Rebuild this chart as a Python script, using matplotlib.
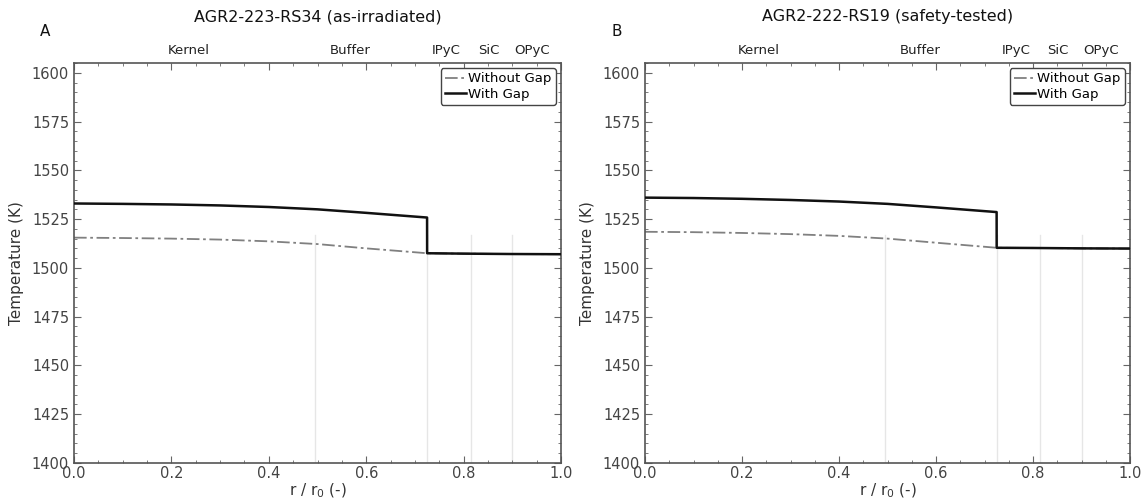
import numpy as np
import matplotlib.pyplot as plt
from matplotlib.ticker import MultipleLocator

titles = ["AGR2-223-RS34 (as-irradiated)", "AGR2-222-RS19 (safety-tested)"]
panel_labels = ["A", "B"]
layer_names = ["Kernel", "Buffer", "IPyC", "SiC", "OPyC"]
layer_label_pos = [0.235, 0.568, 0.765, 0.852, 0.94]
boundaries = [0.495, 0.725, 0.815, 0.9]

# Without gap (dash-dot)
r_nogap = [0.0, 0.1, 0.2, 0.3, 0.4, 0.5, 0.6, 0.725, 0.8, 0.9, 1.0]
T_nogap_A = [1515.5, 1515.3, 1515.0, 1514.5, 1513.6, 1512.2, 1510.0, 1507.5, 1507.3, 1507.1, 1507.0]
T_nogap_B = [1518.5, 1518.3, 1517.9, 1517.3, 1516.4, 1515.0, 1512.9, 1510.3, 1510.2, 1510.0, 1509.9]
# With gap (solid)
r_gap = [0.0, 0.1, 0.2, 0.3, 0.4, 0.5, 0.6, 0.725, 0.7251, 0.8, 0.9, 1.0]
T_gap_A = [1533.0, 1532.8, 1532.5, 1532.0, 1531.2, 1530.0, 1528.2, 1525.8, 1507.5, 1507.3, 1507.1, 1507.0]
T_gap_B = [1536.0, 1535.8, 1535.4, 1534.8, 1534.0, 1532.8, 1531.0, 1528.6, 1510.3, 1510.2, 1510.0, 1509.9]

nogap = [T_nogap_A, T_nogap_B]
gap = [T_gap_A, T_gap_B]

fig = plt.figure(figsize=(11.42, 5.0), dpi=100)
axes_pos = [[74/1142, 37/500, 487/1142, 400/500],
            [645/1142, 37/500, 485/1142, 400/500]]
tick_color = "#444444"
for i in range(2):
    ax = fig.add_axes(axes_pos[i])
    for b in boundaries:
        ax.plot([b, b], [1400, 1517], color="#e6e6e6", lw=1.0, zorder=1)
    ax.plot(r_nogap, nogap[i], color="#808080", lw=1.3, linestyle=(0, (7, 2, 1.5, 2)), label="Without Gap", zorder=2)
    ax.plot(r_gap, gap[i], color="#111111", lw=1.8, label="With Gap", zorder=3)
    ax.set_xlim(0, 1.0)
    ax.set_ylim(1400, 1605)
    ax.xaxis.set_major_locator(MultipleLocator(0.2))
    ax.xaxis.set_minor_locator(MultipleLocator(0.05))
    ax.yaxis.set_major_locator(MultipleLocator(25))
    ax.yaxis.set_minor_locator(MultipleLocator(5))
    ax.tick_params(which="both", direction="in", top=True, right=True, color="#666666")
    ax.tick_params(which="major", length=5, labelsize=10.5, labelcolor=tick_color)
    ax.tick_params(axis="x", which="major", pad=2.5)
    ax.tick_params(which="minor", length=2.5)
    for s in ax.spines.values():
        s.set_color("#555555")
        s.set_linewidth(1.2)
    ax.set_xlabel("r / r$_0$ (-)", fontsize=11, color="#333333", labelpad=0)
    ax.set_ylabel("Temperature (K)", fontsize=11, color="#333333", labelpad=6)
    ax.set_title(titles[i], fontsize=11.5, color="#111111", pad=30)
    ax.text(-0.07, 1.06, panel_labels[i], transform=ax.transAxes,
            fontsize=11, color="#111111", ha="left", va="bottom")
    for name, pos in zip(layer_names, layer_label_pos):
        ax.text(pos, 1.016, name, transform=ax.transAxes, fontsize=9.5,
                color="#222222", ha="center", va="bottom")
    leg = ax.legend(loc="upper right", fontsize=9.5, handlelength=1.6, handletextpad=0.2,
                    borderpad=0.3, labelspacing=0.2, frameon=True, fancybox=True,
                    borderaxespad=0.4)
    leg.get_frame().set_edgecolor("#444444")
    leg.get_frame().set_linewidth(1.0)
    leg.get_frame().set_alpha(1)

fig.savefig("out.png", dpi=100)
